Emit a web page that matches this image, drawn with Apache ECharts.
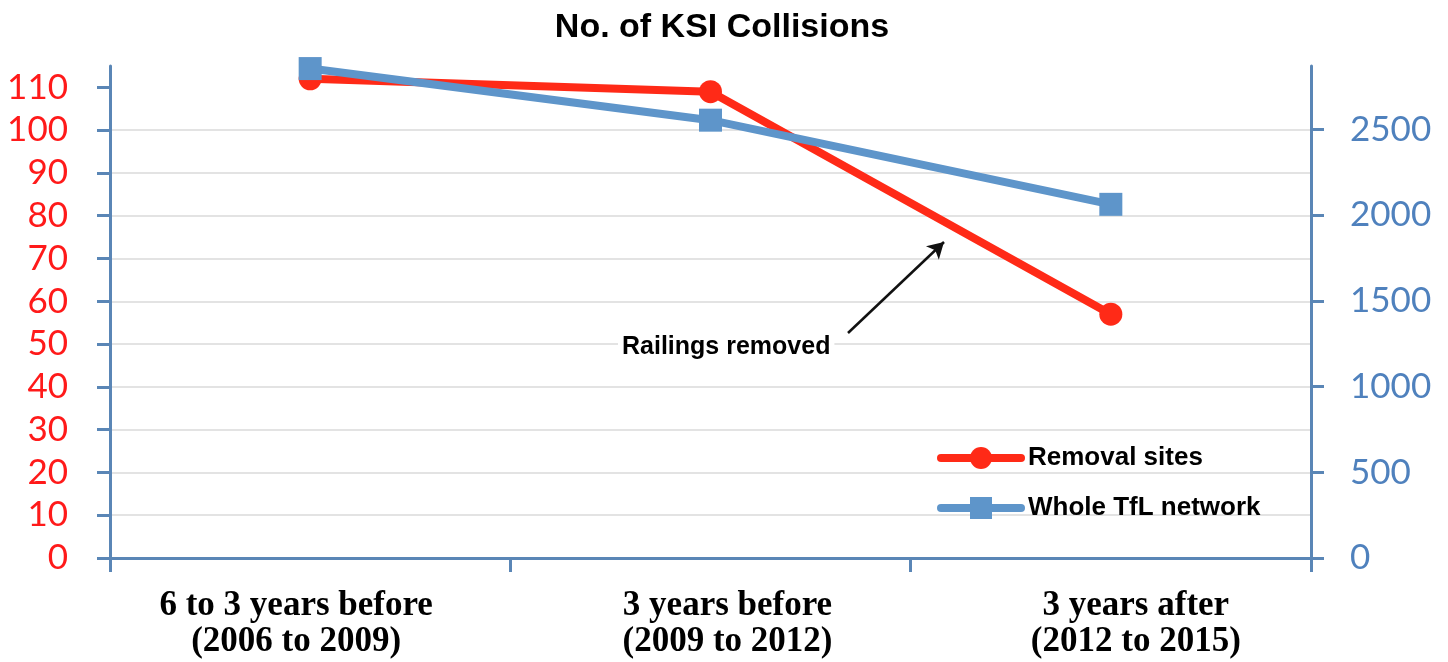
<!DOCTYPE html>
<html>
<head>
<meta charset="utf-8">
<script src="https://cdn.jsdelivr.net/npm/echarts@6/dist/echarts.min.js"></script>
<style>
html,body{margin:0;padding:0;background:#fff;}
#chart{width:1448px;height:662px;}
</style>
</head>
<body>
<div id="chart"></div>
<script>
const categories = ["6 to 3 years before\n(2006 to 2009)", "3 years before\n(2009 to 2012)", "3 years after\n(2012 to 2015)"];
const removalSites = [112, 109, 57];
const wholeTfL = [2855, 2554, 2063];
const leftTicks = [0, 10, 20, 30, 40, 50, 60, 70, 80, 90, 100, 110];
const rightTicks = [0, 500, 1000, 1500, 2000, 2500];
const seriesNames = ["Removal sites", "Whole TfL network"];
const titleText = "No. of KSI Collisions";
const annotationText = "Railings removed";

const RED = '#FF2A17';
const BLUE = '#5E95CA';
const AXIS = '#5A86B6';

const labelFont = {fontFamily: 'Liberation Serif', fontWeight: 'bold', fontSize: 35, lineHeight: 36, color: '#000'};

const chart = echarts.init(document.getElementById('chart'), null, {renderer: 'canvas'});
chart.setOption({
  animation: false,
  backgroundColor: '#fff',
  title: {
    text: titleText,
    left: 717, textAlign: 'center', top: 6,
    textStyle: {fontFamily: 'Liberation Sans', fontWeight: 'bold', fontSize: 34, color: '#000'}
  },
  grid: {left: 110, right: 137, top: 66, bottom: 104, containLabel: false},
  legend: {
    orient: 'vertical', left: 937, top: 445, padding: 0,
    itemWidth: 80, itemHeight: 27.5, itemGap: 24,
    lineStyle: {width: 8, cap: 'round'},
    textStyle: {fontFamily: 'Liberation Sans', fontWeight: 'bold', fontSize: 26, color: '#000', padding: [0, 0, 0, 2]},
    data: seriesNames
  },
  xAxis: {
    type: 'category', data: categories, boundaryGap: true,
    axisLine: {lineStyle: {color: AXIS, width: 3}},
    axisTick: {show: true, interval: 0, length: 14, inside: false, alignWithLabel: false, lineStyle: {color: AXIS, width: 3}},
    axisLabel: Object.assign({
      margin: 30, interval: 0, hideOverlap: false,
      formatter: (v, i) => v.split('\n').map(s => '{c' + i + '|' + s + '}').join('\n'),
      rich: {
        c0: Object.assign({padding: [0, 28, 0, 0]}, labelFont),
        c1: Object.assign({padding: [0, 0, 0, 34]}, labelFont),
        c2: Object.assign({padding: [0, 0, 0, 50]}, labelFont)
      }
    }, labelFont),
    splitLine: {show: false}
  },
  yAxis: [
    {
      type: 'value', min: 0, max: 115, interval: 10, position: 'left',
      axisLine: {show: true, lineStyle: {color: AXIS, width: 3}},
      axisTick: {show: true, length: 13, customValues: leftTicks, lineStyle: {color: AXIS, width: 3}},
      axisLabel: {customValues: leftTicks, margin: 42, fontFamily: 'Lato', fontSize: 35, color: '#FF1A1A',
        formatter: v => String(v)},
      splitLine: {show: true, showMaxLine: false, lineStyle: {color: '#E3E3E3', width: 2}}
    },
    {
      type: 'value', min: 0, max: 2870, interval: 500, position: 'right',
      axisLine: {show: true, lineStyle: {color: AXIS, width: 3}},
      axisTick: {show: true, length: 13, customValues: rightTicks, lineStyle: {color: AXIS, width: 3}},
      axisLabel: {customValues: rightTicks, margin: 39, fontFamily: 'Lato', fontSize: 35, color: '#4F81BD',
        formatter: v => String(v)},
      splitLine: {show: false}
    }
  ],
  series: [
    {
      name: seriesNames[0], type: 'line', yAxisIndex: 0, data: removalSites,
      symbol: 'circle', symbolSize: 23,
      lineStyle: {color: RED, width: 8}, itemStyle: {color: RED},
      z: 2,
      markLine: {
        silent: true,
        symbol: ['none', 'arrow'], symbolSize: [14, 16],
        label: {show: false},
        lineStyle: {color: '#111', width: 2.5, type: 'solid'},
        data: [[{x: 848, y: 333}, {x: 944, y: 242}]]
      }
    },
    {
      name: seriesNames[1], type: 'line', yAxisIndex: 1, data: wholeTfL,
      symbol: 'rect', symbolSize: 23,
      lineStyle: {color: BLUE, width: 8}, itemStyle: {color: BLUE},
      z: 3
    }
  ],
  graphic: [
    {
      type: 'text', left: 618, top: 333, z: 10,
      style: {text: annotationText, fontFamily: 'Liberation Sans', fontWeight: 'bold', fontSize: 25, fill: '#000',
        backgroundColor: '#fff', padding: [2, 4]}
    }
  ]
});
</script>
</body>
</html>
